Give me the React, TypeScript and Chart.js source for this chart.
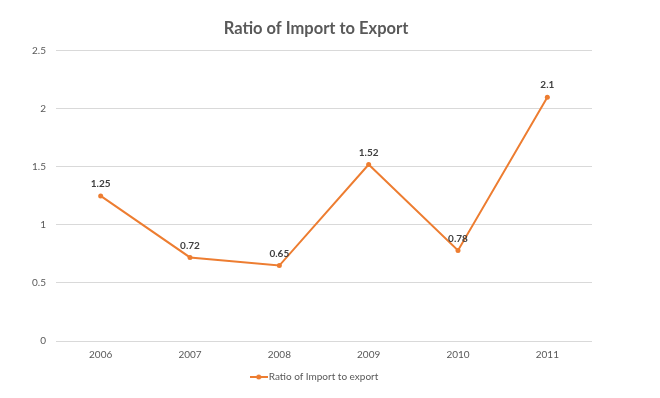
import React, { useEffect, useRef } from "react";
import { Chart, registerables } from "chart.js";

Chart.register(...registerables);

const TITLE = "Ratio of Import to Export";
const SERIES_NAME = "Ratio of Import to export";
const YEARS = ["2006", "2007", "2008", "2009", "2010", "2011"];
const RATIOS = [1.25, 0.72, 0.65, 1.52, 0.78, 2.1];

const ORANGE = "#ED7D31";
const FONT = "Lato, 'Open Sans', sans-serif";

function makeLegendIcon(): HTMLCanvasElement {
  const c = document.createElement("canvas");
  c.width = 18;
  c.height = 8;
  const ctx = c.getContext("2d")!;
  ctx.strokeStyle = ORANGE;
  ctx.lineWidth = 2;
  ctx.beginPath();
  ctx.moveTo(0, 4);
  ctx.lineTo(18, 4);
  ctx.stroke();
  ctx.fillStyle = ORANGE;
  ctx.beginPath();
  ctx.arc(9, 4, 2.5, 0, Math.PI * 2);
  ctx.fill();
  return c;
}

const dataLabels = {
  id: "dataLabels",
  afterDatasetsDraw(chart: any) {
    const ctx = chart.ctx;
    const meta = chart.getDatasetMeta(0);
    const data = chart.data.datasets[0].data;
    ctx.save();
    ctx.font = `bold 10px ${FONT}`;
    ctx.fillStyle = "#404040";
    ctx.textAlign = "center";
    ctx.textBaseline = "middle";
    meta.data.forEach((pt: any, i: number) => {
      ctx.fillText(String(data[i]), pt.x, pt.y - 12);
    });
    ctx.restore();
  },
};

export default function App() {
  const ref = useRef<HTMLCanvasElement>(null);
  useEffect(() => {
    document.body.style.margin = "0";
    const icon = makeLegendIcon();
    const chart = new Chart(ref.current!, {
      type: "line",
      data: {
        labels: YEARS,
        datasets: [
          {
            label: SERIES_NAME,
            data: RATIOS,
            borderColor: ORANGE,
            backgroundColor: ORANGE,
            borderWidth: 2,
            pointRadius: 2.5,
            pointBackgroundColor: ORANGE,
            pointBorderWidth: 0,
            pointStyle: "circle",
            tension: 0,
            yAxisID: "y",
          },
        ],
      },
      options: {
        animation: false,
        responsive: false,
        layout: { padding: { left: 0, right: 28, top: 0, bottom: 6 } },
        plugins: {
          title: {
            display: true,
            text: TITLE,
            color: "#595959",
            font: { family: FONT, size: 16.5, weight: "bold" },
            padding: { top: 19, bottom: 12 },
          },
          legend: {
            position: "bottom",
            labels: {
              usePointStyle: true,
              pointStyle: icon as any,
              color: "#595959",
              font: { family: FONT, size: 10 },
              padding: 8,
            },
          },
          tooltip: { enabled: false },
        },
        scales: {
          x: {
            offset: true,
            grid: { display: false, drawTicks: false },
            border: { display: false },
            ticks: { color: "#595959", font: { family: FONT, size: 10 }, padding: 8 },
            afterFit(scale: any) {
              scale.height = 23;
            },
          },
          y: {
            min: 0,
            max: 2.5,
            ticks: {
              stepSize: 0.5,
              color: "#595959",
              font: { family: FONT, size: 10 },
              padding: 10,
              callback: (v: any) => String(v),
            },
            grid: { color: "#d9d9d9", drawTicks: false },
            border: { display: false },
            afterFit(scale: any) {
              scale.width = 56;
            },
          },
          yRight: {
            position: "right",
            display: true,
            grid: { display: false, drawTicks: false },
            border: { display: false },
            ticks: { display: false },
            afterFit(scale: any) {
              scale.width = 40;
            },
          },
        },
      },
      plugins: [dataLabels],
    });
    return () => chart.destroy();
  }, []);
  return (
    <div style={{ width: 660, height: 398, background: "#fff" }}>
      <canvas ref={ref} width={660} height={398} />
    </div>
  );
}
